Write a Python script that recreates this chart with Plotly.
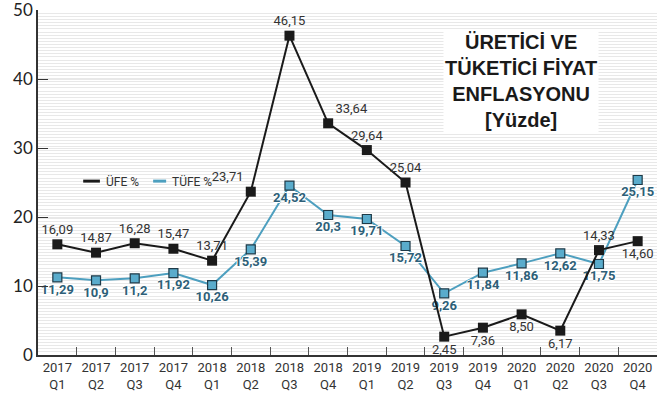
import plotly.graph_objects as go

quarters = ["2017<br>Q1", "2017<br>Q2", "2017<br>Q3", "2017<br>Q4",
            "2018<br>Q1", "2018<br>Q2", "2018<br>Q3", "2018<br>Q4",
            "2019<br>Q1", "2019<br>Q2", "2019<br>Q3", "2019<br>Q4",
            "2020<br>Q1", "2020<br>Q2", "2020<br>Q3", "2020<br>Q4"]

# values as drawn on the chart (the printed labels differ a bit on the right side)
ufe = [16.04, 14.83, 16.2, 15.4, 13.67, 23.67, 46.28, 33.58,
       29.7, 25.0, 2.66, 3.96, 5.89, 3.53, 15.2, 16.5]
tufe = [11.26, 10.82, 11.11, 11.88, 10.14, 15.31, 24.54, 20.29,
        19.71, 15.8, 8.94, 11.93, 13.28, 14.73, 13.19, 25.36]

ufe_labels = ["16,09", "14,87", "16,28", "15,47", "13,71", "23,71", "46,15", "33,64",
              "29,64", "25,04", "2,45", "7,36", "8,50", "6,17", "14,33", "14,60"]
tufe_labels = ["11,29", "10,9", "11,2", "11,92", "10,26", "15,39", "24,52", "20,3",
               "19,71", "15,72", "9,26", "11,84", "11,86", "12,62", "11,75", "25,15"]

ufe_pos = ["top center"] * 5 + ["top left", "top center", "top right",
                                "top center", "top center", "bottom center", "bottom center",
                                "bottom center", "bottom center", "top center", "bottom center"]

NARROW = "Roboto, Arial, sans-serif"
BLACK = "#1a1a1a"
BLUE = "#4d9fbf"
halo = "1px 0 0 white, -1px 0 0 white, 0 1px 0 white, 0 -1px 0 white"

fig = go.Figure()

fig.add_trace(go.Scatter(
    x=quarters, y=tufe, mode="lines+markers+text", name="TÜFE %",
    line=dict(color=BLUE, width=2),
    marker=dict(symbol="square", size=9, color="#5aaccc",
                line=dict(color="#1e3a48", width=1.2)),
    text=tufe_labels, textposition="bottom center",
    textfont=dict(family=NARROW, size=13, color="#2e5f78", weight="bold", shadow=halo),
))

fig.add_trace(go.Scatter(
    x=quarters, y=ufe, mode="lines+markers+text", name="ÜFE %",
    line=dict(color=BLACK, width=2),
    marker=dict(symbol="square", size=10, color=BLACK),
    text=ufe_labels, textposition=ufe_pos,
    textfont=dict(family=NARROW, size=13, color="#333333"),
))

# small hand-drawn style legend
legend_items = [("ÜFE %", BLACK, 0.073, 0.100), ("TÜFE %", BLUE, 0.186, 0.207)]
for name, color, x0, x1 in legend_items:
    fig.add_shape(type="line", xref="paper", yref="paper", x0=x0, x1=x1, y0=0.504, y1=0.504,
                  line=dict(color=color, width=3))
    fig.add_annotation(text=name, xref="paper", yref="paper", x=x1 + 0.007, y=0.504,
                       xanchor="left", yanchor="middle", showarrow=False,
                       font=dict(family=NARROW, size=12, color="#333333"))

fig.add_annotation(
    text="<b>ÜRETİCİ VE<br>TÜKETİCİ FİYAT<br>ENFLASYONU<br>[Yüzde]</b>",
    xref="paper", yref="paper", x=0.78, y=0.945, xanchor="center", yanchor="top",
    showarrow=False, bgcolor="white",
    font=dict(family="Liberation Sans, Arial, sans-serif", size=20, color=BLACK),
)

fig.update_layout(
    width=660, height=400,
    margin=dict(l=38, r=3, t=10, b=45),
    paper_bgcolor="white", plot_bgcolor="white",
    showlegend=False,
    xaxis=dict(
        type="category", range=[-0.5, 15.5], automargin=False, tickangle=0,
        showline=True, linecolor="#333333", linewidth=1.5,
        ticks="inside", tickson="boundaries", ticklen=8, tickcolor="#555555",
        tickfont=dict(family=NARROW, size=13, color="#333333"),
        showgrid=False,
    ),
    yaxis=dict(
        range=[0, 50], dtick=10, automargin=False, ticklabeloverflow="allow",
        showline=True, linecolor="#333333", linewidth=1.5,
        ticks="inside", ticklen=10, tickcolor="#333333",
        tickfont=dict(family="Lato, DejaVu Sans, sans-serif", size=17, color="#222222"),
        showgrid=True, gridcolor="#e8e8e8", gridwidth=1,
        minor=dict(dtick=0.45, showgrid=True, gridcolor="#e8e8e8", gridwidth=1),
        zeroline=False,
    ),
)

fig.write_html("out.html", config={"displayModeBar": False},
               post_script="document.body.style.margin='0';")
